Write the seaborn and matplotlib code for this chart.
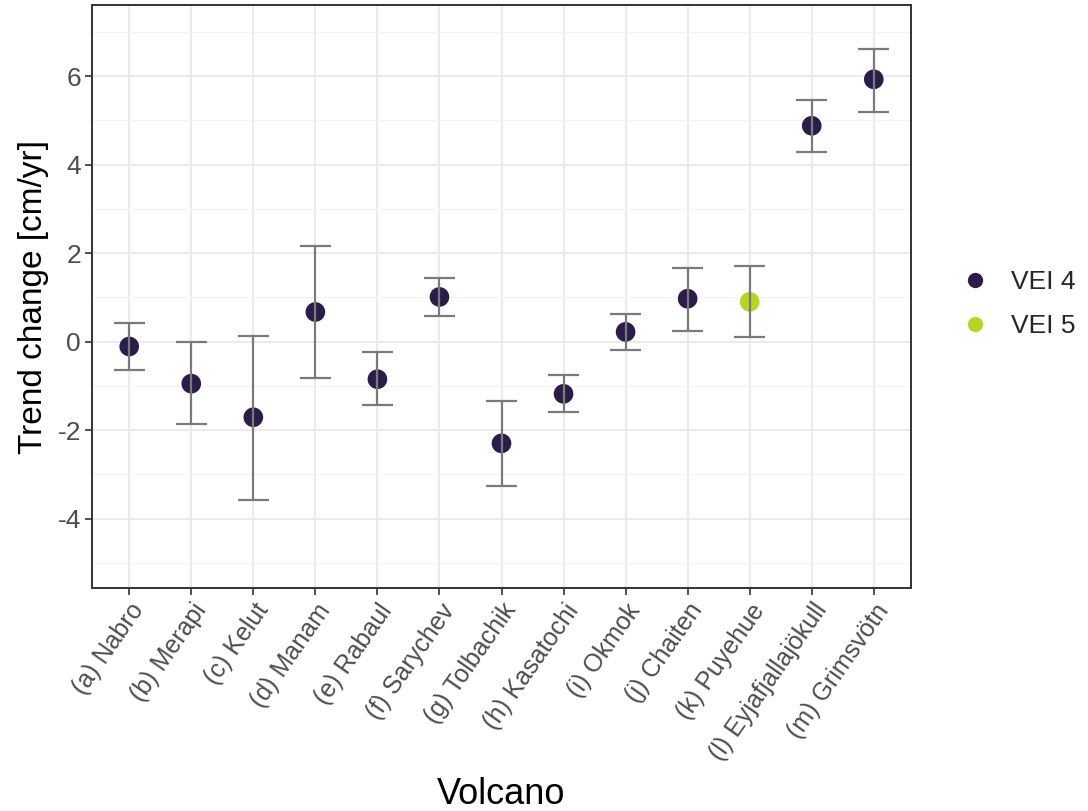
import numpy as np
import pandas as pd
import matplotlib
matplotlib.use("Agg")
import matplotlib.pyplot as plt
import seaborn as sns
from matplotlib.lines import Line2D

volcanoes = ["(a) Nabro", "(b) Merapi", "(c) Kelut", "(d) Manam", "(e) Rabaul",
             "(f) Sarychev", "(g) Tolbachik", "(h) Kasatochi", "(i) Okmok",
             "(j) Chaiten", "(k) Puyehue", "(l) Eyjafjallajökull", "(m) Grimsvötn"]
trend = [-0.11, -0.95, -1.71, 0.67, -0.85, 1.01, -2.30, -1.18, 0.22, 0.97, 0.90, 4.88, 5.93]
upper = [0.42, 0.00, 0.13, 2.16, -0.24, 1.43, -1.34, -0.76, 0.62, 1.67, 1.71, 5.47, 6.61]
lower = [-0.64, -1.87, -3.57, -0.82, -1.44, 0.57, -3.26, -1.60, -0.18, 0.24, 0.10, 4.29, 5.19]
vei = ["VEI 4"] * 10 + ["VEI 5"] + ["VEI 4"] * 2
vei_levels = ["VEI 4", "VEI 5"]
vei_colors = ["#2B1C4A", "#B6D626"]
y_ticks = [-4, -2, 0, 2, 4, 6]

df = pd.DataFrame({"Volcano": volcanoes, "Trend": trend, "lo": lower, "hi": upper, "VEI": vei})
df["xpos"] = np.arange(len(df))

sns.set_theme(style="white")
plt.rcParams["font.family"] = ["Liberation Sans", "DejaVu Sans"]

fig = plt.figure(figsize=(10.88, 8.11), dpi=100)
ax = fig.add_axes([92 / 1088, 1 - 588 / 811, (911 - 92) / 1088, (588 - 5) / 811])

palette = dict(zip(vei_levels, vei_colors))
sns.scatterplot(data=df, x="xpos", y="Trend", hue="VEI", hue_order=vei_levels,
                palette=palette, s=200, edgecolor="none", linewidth=0,
                ax=ax, zorder=3, legend=False)

# error bars (drawn above points as in reference)
ebc = "#7A7A7A"
ax.vlines(df["xpos"], df["lo"], df["hi"], color=ebc, linewidth=1.6, zorder=4)
cap = 0.25
ax.hlines(df["lo"], df["xpos"] - cap, df["xpos"] + cap, color=ebc, linewidth=1.6, zorder=4)
ax.hlines(df["hi"], df["xpos"] - cap, df["xpos"] + cap, color=ebc, linewidth=1.6, zorder=4)

ax.set_xlim(-0.6, len(df) - 1 + 0.6)
ax.set_ylim(-5.57, 7.61)
ax.set_xticks(df["xpos"])
ax.set_xticklabels(volcanoes, rotation=55, ha="right", rotation_mode="anchor",
                   fontsize=18, color="#4D4D4D")
ax.set_yticks(y_ticks)
ax.set_yticklabels([str(t) for t in y_ticks], fontsize=19, color="#4D4D4D")
ax.set_yticks([-5, -3, -1, 1, 3, 5, 7], minor=True)
ax.set_xticks([], minor=True)

ax.grid(True, which="major", color="#EBEBEB", linewidth=1.4, zorder=0)
ax.grid(True, which="minor", axis="y", color="#F3F3F3", linewidth=0.8, zorder=0)
ax.set_axisbelow(True)

ax.tick_params(axis="both", which="major", length=5, width=1.2, color="#333333",
               direction="out", pad=3, bottom=True, left=True)
ax.tick_params(axis="both", which="minor", length=0)
for sp in ax.spines.values():
    sp.set_color("#333333")
    sp.set_linewidth(1.4)
    sp.set_visible(True)

ax.set_xlabel("Volcano", fontsize=26, color="black", labelpad=8)
ax.set_ylabel("Trend change [cm/yr]", fontsize=24, color="black", labelpad=6)

handles = [Line2D([0], [0], marker="o", linestyle="", markersize=11,
                  markerfacecolor=c, markeredgecolor="none") for c in vei_colors]
fig.legend(handles, vei_levels, loc="center left", bbox_to_anchor=(962 / 1088, 1 - 304 / 811),
           frameon=False, fontsize=19, handlelength=1.0, handletextpad=0.85,
           labelspacing=0.75, borderpad=0, borderaxespad=0)

fig.savefig("out.png", dpi=100)
